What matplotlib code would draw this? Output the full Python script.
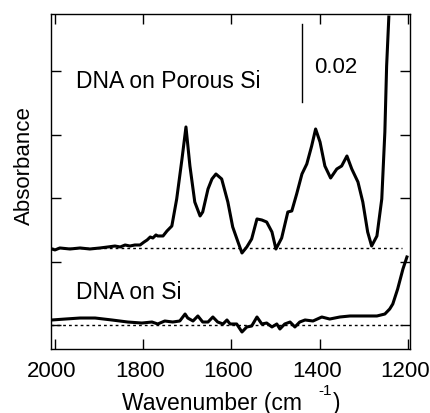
import matplotlib
matplotlib.use("Agg")
import matplotlib.pyplot as plt
from matplotlib.transforms import ScaledTranslation

plt.rcParams['font.family'] = ['Liberation Sans', 'DejaVu Sans']

# Upper spectrum: DNA on porous Si (relative to its own baseline, tick units)
porous_x = [2007, 2000, 1989, 1966, 1943, 1921, 1898, 1880, 1864, 1852, 1841, 1830, 1819, 1807,
            1798, 1791, 1784, 1778, 1771, 1767, 1755, 1746, 1735, 1724, 1712, 1703, 1694,
            1683, 1671, 1665, 1653, 1644, 1635, 1622, 1608, 1597, 1585, 1576, 1565, 1554,
            1542, 1531, 1520, 1508, 1499, 1486, 1472, 1463, 1452, 1440, 1429, 1418, 1409,
            1399, 1388, 1375, 1361, 1350, 1338, 1327, 1313, 1302, 1291, 1282, 1270, 1259,
            1252, 1248, 1243]
porous_y = [-0.016, -0.031, 0.000, -0.016, 0.000, -0.016, 0.000, 0.016, 0.031, 0.016, 0.047, 0.031,
            0.047, 0.047, 0.094, 0.126, 0.173, 0.157, 0.205, 0.189, 0.189, 0.268, 0.346, 0.772,
            1.402, 1.906, 1.291, 0.724, 0.504, 0.567, 0.929, 1.087, 1.165, 1.087, 0.724, 0.331,
            0.094, -0.079, 0.016, 0.142, 0.457, 0.441, 0.409, 0.252, -0.016, 0.157, 0.567,
            0.583, 0.850, 1.165, 1.323, 1.606, 1.874, 1.669, 1.291, 1.102, 1.244, 1.291, 1.449,
            1.244, 1.039, 0.724, 0.252, 0.031, 0.189, 0.772, 1.827, 2.866, 3.638]

# Lower spectrum: DNA on Si
si_x = [2007, 1977, 1943, 1909, 1871, 1835, 1803, 1780, 1767, 1751, 1733, 1717, 1705, 1699,
        1687, 1676, 1665, 1653, 1642, 1631, 1619, 1610, 1603, 1588, 1576, 1565, 1554, 1542,
        1531, 1520, 1508, 1497, 1490, 1479, 1467, 1456, 1445, 1433, 1415, 1395, 1377, 1354,
        1331, 1302, 1270, 1252, 1241, 1234, 1223, 1211, 1202]
si_y = [0.079, 0.094, 0.110, 0.110, 0.079, 0.047, 0.031, 0.047, 0.016, 0.063, 0.047, 0.063, 0.173,
        0.110, 0.063, 0.142, 0.047, 0.047, 0.126, 0.047, 0.016, 0.079, 0.016, 0.016, -0.110,
        -0.031, -0.016, 0.126, 0.016, 0.031, -0.031, 0.016, -0.063, 0.016, 0.047, -0.031, 0.047,
        0.079, 0.063, 0.126, 0.094, 0.126, 0.142, 0.142, 0.142, 0.173, 0.252, 0.331, 0.567,
        0.882, 1.071]

porous_offset = 1.213
si_offset = 0.0
baseline_end = 1214
x_ticks = [2000, 1800, 1600, 1400, 1200]
scale_label = "0.02"

fig = plt.figure(figsize=(4.30, 4.14), dpi=100)
ax = fig.add_axes([51/430, 1-350/414, 359/430, 335/414])

lw = 2.2
ax.plot(porous_x, [v + porous_offset for v in porous_y], color='black', lw=lw, solid_joinstyle='round')
ax.plot(si_x, [v + si_offset for v in si_y], color='black', lw=lw, solid_joinstyle='round')

for off in (porous_offset, si_offset):
    ax.plot([2009, baseline_end], [off, off], color='black', lw=1.0, linestyle=(0, (2, 2.2)))

# scale bar
ax.plot([1440, 1440], [3.512, 4.740], color='black', lw=1.0)
ax.text(1413, 4.079, scale_label, fontsize=16, va='center', ha='left')

ax.text(1952, 3.858, "DNA on Porous Si", fontsize=16.5, va='center', ha='left')
ax.text(1952, 0.520, "DNA on Si", fontsize=16.5, va='center', ha='left')

ax.set_xlim(2009, 1195)
ax.set_ylim(-0.378, 4.898)
ax.set_xticks(x_ticks)
ax.set_yticks([0, 1, 2, 3, 4])
ax.tick_params(direction='in', length=7, width=1.0, top=True, right=True,
               labelleft=False, labelsize=16, pad=8)
for s in ax.spines.values():
    s.set_linewidth(1.0)

shift = ScaledTranslation(-3/100, 0, fig.dpi_scale_trans)
for lab in ax.get_xticklabels():
    lab.set_transform(lab.get_transform() + shift)

fig.text(122/430, 1-404/414, "Wavenumber (cm", fontsize=16.5, va='center', ha='left')
fig.text(318/430, 1-391/414, "-1", fontsize=11, va='center', ha='left')
fig.text(333/430, 1-404/414, ")", fontsize=16.5, va='center', ha='left')
fig.text(24/430, 1-166/414, "Absorbance", fontsize=16, rotation=90, va='center', ha='center')

fig.savefig("out.png", dpi=100)
